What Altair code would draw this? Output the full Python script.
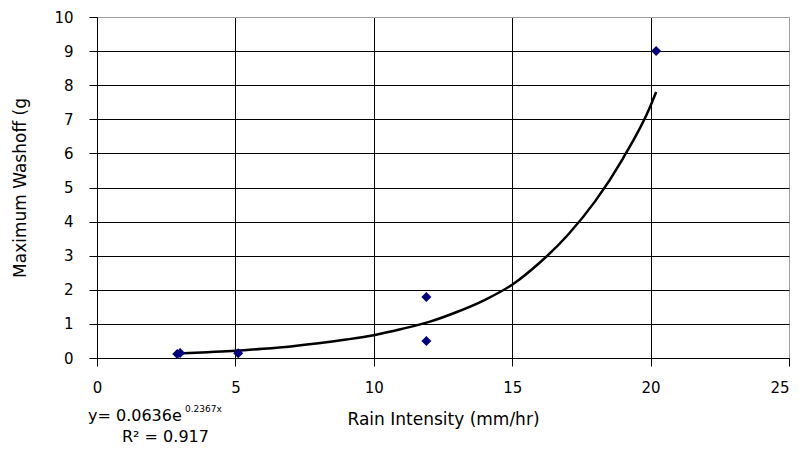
import altair as alt
import pandas as pd

# Observed data points
obs_x = [2.9, 3.0, 5.1, 11.9, 11.9, 20.2]
obs_y = [0.12, 0.15, 0.14, 1.79, 0.50, 9.0]

# Exponential trendline
fit_x = [2.9, 4, 5, 6, 7, 8, 9, 10, 11, 12, 13, 14, 15, 16, 17, 18, 19, 20, 20.2]
fit_y = [0.13, 0.17, 0.21, 0.27, 0.34, 0.43, 0.54, 0.67, 0.85, 1.06, 1.35, 1.7,
         2.15, 2.8, 3.6, 4.6, 5.85, 7.4, 7.8]

x_ticks = [0, 5, 10, 15, 20, 25]
y_ticks = [0, 1, 2, 3, 4, 5, 6, 7, 8, 9, 10]

eq_text = "y= 0.0636e"
eq_sup = "0.2367x"
r2_text = "R² = 0.917"

FONT = "DejaVu Sans"
W, H = 692, 341

pts = pd.DataFrame({"x": obs_x, "y": obs_y})
fit = pd.DataFrame({"x": fit_x, "y": fit_y})

xs = alt.Scale(domain=[0, 25], nice=False)
ys = alt.Scale(domain=[0, 10], nice=False)

def make_xax():
    return alt.Axis(values=x_ticks, title="Rain Intensity (mm/hr)", grid=True,
                    gridColor={"condition": {"test": "datum.value >= 25", "value": "#a0a0a0"}, "value": "black"},
                    gridOpacity=1, tickColor="black", tickSize=8, domainColor="black",
                    labelFont=FONT, labelFontSize=15, labelColor="black", labelPadding=14,
                    labelAlign={"condition": {"test": "datum.value >= 25", "value": "right"}, "value": "center"},
                    labelOverlap=False,
                    titleFont=FONT, titleFontSize=17, titleFontWeight="normal", titleColor="black",
                    titlePadding=16)

def make_yax():
    return alt.Axis(values=y_ticks, title="Maximum Washoff (g", grid=True,
                    gridColor={"condition": {"test": "datum.value >= 10", "value": "#a0a0a0"}, "value": "black"},
                    gridOpacity=1, tickColor="black", tickSize=8, domainColor="black",
                    labelFont=FONT, labelFontSize=15, labelColor="black", labelPadding=16,
                    labelOverlap=False,
                    titleFont=FONT, titleFontSize=17, titleFontWeight="normal", titleColor="black",
                    titlePadding=24)

line = alt.Chart(fit).mark_line(color="black", strokeWidth=2.5, interpolate="monotone").encode(
    x=alt.X("x:Q", scale=xs, axis=make_xax()),
    y=alt.Y("y:Q", scale=ys, axis=make_yax()),
)
points = alt.Chart(pts).mark_point(shape="diamond", filled=True, color="#000080", size=100, opacity=1).encode(
    x=alt.X("x:Q", scale=xs, axis=make_xax()),
    y=alt.Y("y:Q", scale=ys, axis=make_yax()),
)

eq = alt.Chart(pd.DataFrame({"t": [eq_text]})).mark_text(
    font=FONT, fontSize=16, align="left", baseline="alphabetic", color="black"
).encode(text="t:N", x=alt.value(-9), y=alt.value(404))
sup = alt.Chart(pd.DataFrame({"t": [eq_sup]})).mark_text(
    font=FONT, fontSize=9, align="left", baseline="alphabetic", color="black"
).encode(text="t:N", x=alt.value(88), y=alt.value(395))
r2 = alt.Chart(pd.DataFrame({"t": [r2_text]})).mark_text(
    font=FONT, fontSize=16, align="left", baseline="alphabetic", color="black"
).encode(text="t:N", x=alt.value(25), y=alt.value(425))

chart = alt.layer(line, points, eq, sup, r2).properties(
    width=W, height=H, autosize="none",
    padding={"left": 89, "top": 9, "right": 2, "bottom": 88},
).configure_view(stroke="#a0a0a0", strokeWidth=1.5).configure(background="white")

chart.save("out.html", embed_options={"renderer": "svg", "actions": False})
